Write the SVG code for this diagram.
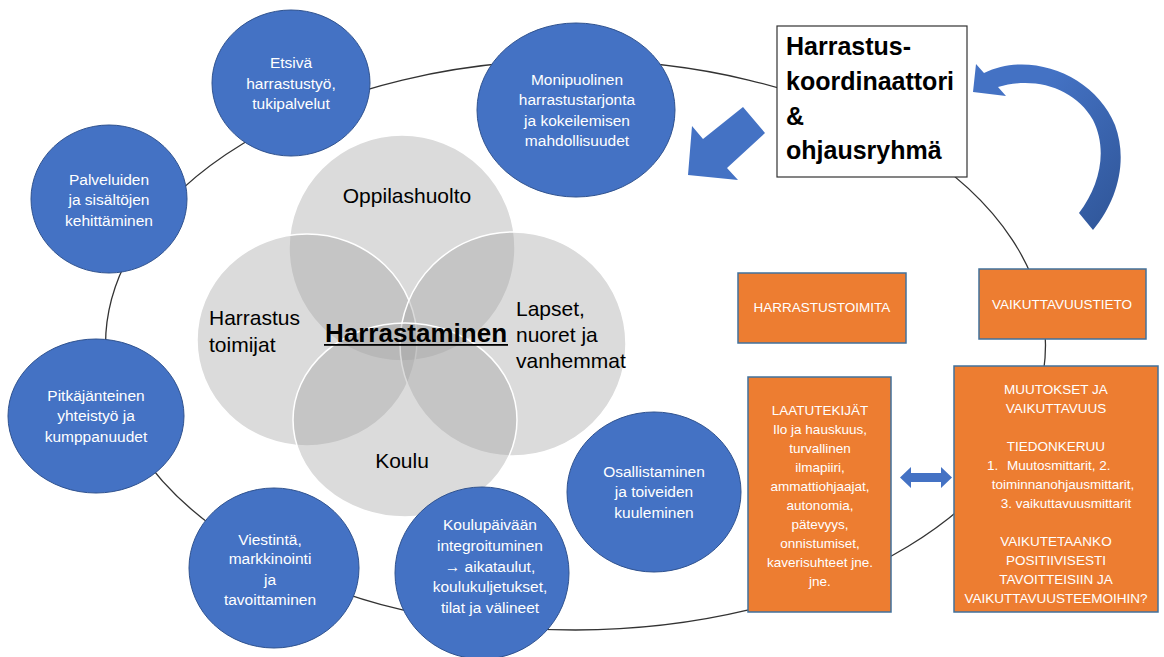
<svg xmlns="http://www.w3.org/2000/svg" width="1164" height="657" viewBox="0 0 1164 657">
<defs>
<style>
.bc{fill:#4472C4;stroke:#2F528F;stroke-width:1}
.bt{font-family:"Liberation Sans",Arial,sans-serif;font-size:15.5px;fill:#fff;text-anchor:middle}
.ob{fill:#ED7D31;stroke:#41719C;stroke-width:1.5}
.ot{font-family:"Liberation Sans",Arial,sans-serif;font-size:13.5px;fill:#fff;text-anchor:middle}
.os{font-family:"Liberation Sans",Arial,sans-serif;font-size:13.5px;fill:#fff;text-anchor:start}
.vc{fill:#A6A6A6;fill-opacity:0.4;stroke:#fff;stroke-width:1.5}
.vt{font-family:"Liberation Sans",Arial,sans-serif;font-size:21px;fill:#000}
.tt{font-family:"Liberation Sans",Arial,sans-serif;font-size:25px;font-weight:bold;fill:#000}
.conn{fill:none;stroke:#333;stroke-width:1.3}
.blue{fill:#4472C4}
</style>
<linearGradient id="cg" x1="0" y1="0" x2="1" y2="1">
<stop offset="0.3" stop-color="#4472C4"/>
<stop offset="1" stop-color="#2F5597"/>
</linearGradient>
</defs>
<rect width="1164" height="657" fill="#fff"/>

<g id="connectors">
<ellipse class="conn" cx="575.5" cy="345" rx="470" ry="285"/>
</g>

<g id="venn">
<g id="oppilashuolto"><ellipse class="vc" cx="402" cy="248" rx="113" ry="113"/></g>
<g id="harrastus-toimijat"><ellipse class="vc" cx="307" cy="340" rx="110" ry="106"/></g>
<g id="lapset"><ellipse class="vc" cx="513" cy="344" rx="113" ry="112"/></g>
<g id="koulu"><ellipse class="vc" cx="405" cy="420" rx="112" ry="97"/></g>
<text class="vt" x="407" y="203" text-anchor="middle">Oppilashuolto</text>
<text class="vt" x="209" y="325">Harrastus</text>
<text class="vt" x="209" y="352">toimijat</text>
<text class="vt" x="516" y="316">Lapset,</text>
<text class="vt" x="516" y="342">nuoret ja</text>
<text class="vt" x="516" y="368">vanhemmat</text>
<text class="vt" x="402" y="468" text-anchor="middle">Koulu</text>
<g id="harrastaminen">
<text x="416" y="342" text-anchor="middle" style="font-family:'Liberation Sans',Arial,sans-serif;font-size:26px;font-weight:bold;fill:#000">Harrastaminen</text>
<rect x="324" y="344" width="184" height="1.8" fill="#000"/>
</g>
</g>

<g id="etsiva">
<ellipse class="bc" cx="291" cy="83" rx="79" ry="73"/>
<text class="bt" x="291" y="68">Etsivä</text>
<text class="bt" x="291" y="89">harrastustyö,</text>
<text class="bt" x="291" y="109">tukipalvelut</text>
</g>
<g id="monipuolinen">
<ellipse class="bc" cx="576" cy="110" rx="99" ry="87"/>
<text class="bt" x="577" y="85">Monipuolinen</text>
<text class="bt" x="577" y="105">harrastustarjonta</text>
<text class="bt" x="577" y="126">ja kokeilemisen</text>
<text class="bt" x="577" y="146">mahdollisuudet</text>
</g>
<g id="palveluiden">
<ellipse class="bc" cx="109" cy="199" rx="78" ry="74"/>
<text class="bt" x="109" y="185">Palveluiden</text>
<text class="bt" x="109" y="205">ja sisältöjen</text>
<text class="bt" x="109" y="226">kehittäminen</text>
</g>
<g id="pitkajanteinen">
<ellipse class="bc" cx="96" cy="416" rx="88" ry="77"/>
<text class="bt" x="96" y="401">Pitkäjänteinen</text>
<text class="bt" x="96" y="421">yhteistyö ja</text>
<text class="bt" x="96" y="442">kumppanuudet</text>
</g>
<g id="viestinta">
<ellipse class="bc" cx="274" cy="568" rx="85" ry="80"/>
<text class="bt" x="270" y="545">Viestintä,</text>
<text class="bt" x="270" y="564">markkinointi</text>
<text class="bt" x="270" y="585">ja</text>
<text class="bt" x="270" y="605">tavoittaminen</text>
</g>
<g id="koulupaivaan">
<ellipse class="bc" cx="482" cy="573" rx="87" ry="86"/>
<text class="bt" x="490" y="530">Koulupäivään</text>
<text class="bt" x="490" y="551">integroituminen</text>
<text class="bt" x="490" y="572">→ aikataulut,</text>
<text class="bt" x="490" y="592">koulukuljetukset,</text>
<text class="bt" x="490" y="613">tilat ja välineet</text>
</g>
<g id="osallistaminen">
<ellipse class="bc" cx="654" cy="492" rx="87" ry="80"/>
<text class="bt" x="654" y="477">Osallistaminen</text>
<text class="bt" x="654" y="497">ja toiveiden</text>
<text class="bt" x="654" y="518">kuuleminen</text>
</g>

<g id="koordinaattori">
<rect x="777" y="26" width="190" height="151" fill="#fff" stroke="#333" stroke-width="1.2"/>
<text class="tt" x="786" y="55">Harrastus-</text>
<text class="tt" x="786" y="90">koordinaattori</text>
<text class="tt" x="786" y="125">&amp;</text>
<text class="tt" x="786" y="159">ohjausryhmä</text>
</g>

<g id="harrastustoimita">
<rect class="ob" x="738" y="273" width="168" height="70"/>
<text class="ot" x="822" y="312">HARRASTUSTOIMITA</text>
</g>
<g id="vaikuttavuustieto">
<rect class="ob" x="979" y="269" width="167" height="70"/>
<text class="ot" x="1062" y="309">VAIKUTTAVUUSTIETO</text>
</g>
<g id="laatutekijat">
<rect class="ob" x="748" y="377" width="143" height="235"/>
<text class="ot" x="820" y="415">LAATUTEKIJÄT</text>
<text class="ot" x="820" y="434">Ilo ja hauskuus,</text>
<text class="ot" x="820" y="453">turvallinen</text>
<text class="ot" x="820" y="472">ilmapiiri,</text>
<text class="ot" x="820" y="491">ammattiohjaajat,</text>
<text class="ot" x="820" y="510">autonomia,</text>
<text class="ot" x="820" y="529">pätevyys,</text>
<text class="ot" x="820" y="548">onnistumiset,</text>
<text class="ot" x="820" y="567">kaverisuhteet jne.</text>
<text class="ot" x="820" y="586">jne.</text>
</g>
<g id="muutokset">
<rect class="ob" x="954" y="366" width="204" height="246"/>
<text class="ot" x="1056" y="394">MUUTOKSET JA</text>
<text class="ot" x="1056" y="413">VAIKUTTAVUUS</text>
<text class="ot" x="1056" y="451">TIEDONKERUU</text>
<text class="os" x="987" y="470">1.</text>
<text class="os" x="1007" y="470">Muutosmittarit, 2.</text>
<text class="ot" x="1063" y="489">toiminnanohjausmittarit,</text>
<text class="ot" x="1066" y="508">3. vaikuttavuusmittarit</text>
<text class="ot" x="1056" y="546">VAIKUTETAANKO</text>
<text class="ot" x="1056" y="565">POSITIIVISESTI</text>
<text class="ot" x="1056" y="584">TAVOITTEISIIN JA</text>
<text class="ot" x="1056" y="603">VAIKUTTAVUUSTEEMOIHIN?</text>
</g>

<g id="arrows">
<polygon class="blue" points="688,175 692,126 703,139 743,107 765,133 727,168 738,180"/>
<path fill="url(#cg)" d="M 984 73 C 1030 50, 1095 75, 1115 125 C 1128 160, 1118 200, 1093 230 L 1079 213 C 1100 185, 1108 150, 1093 120 C 1075 88, 1035 76, 998 87 L 1006 96 L 973 92 L 976 64 Z"/>
<polygon class="blue" points="900,477.5 911,467 911,473 941,473 941,467 952,477.5 941,488 941,482 911,482 911,488"/>
</g>
</svg>
